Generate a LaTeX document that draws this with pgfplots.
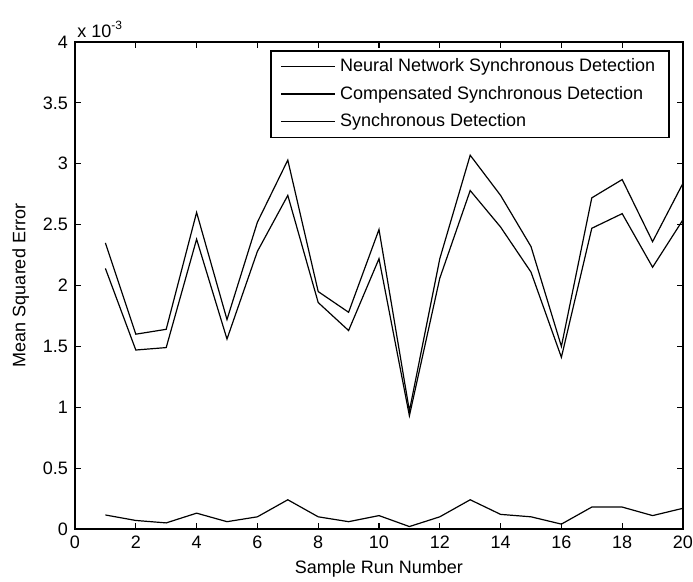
\documentclass[border=0pt]{standalone}
\usepackage{pgfplots}
\pgfplotsset{compat=1.18}
\usepackage{fontspec}
\setmainfont{Liberation Sans}
\begin{document}
\begin{tikzpicture}
\begin{axis}[
    name=ax,
    scale only axis,
    width=304pt, height=243.5pt,
    xmin=0, xmax=20,
    ymin=0, ymax=0.004,
    xtick={0,2,...,20},
    ytick={0,0.0005,...,0.0041},
    tick align=inside,
    major tick length=3pt,
    xtick pos=both, ytick pos=both,
    axis line style={line width=0.8pt},
    tick style={line width=0.6pt, black},
    scaled y ticks=base 10:3,
    ytick scale label code/.code={x 10\textsuperscript{#1}},
    every y tick scale label/.style={at={(rel axis cs:0,1)}, anchor=south west, inner sep=1pt, yshift=1pt},
    /pgf/number format/assume math mode=true,
    ticklabel style={font=\fontsize{9}{10}\selectfont},
    xlabel={Sample Run Number},
    ylabel={Mean Squared Error},
    label style={font=\fontsize{9}{10}\selectfont},
    xlabel style={yshift=1pt},
    ylabel style={yshift=0pt},
    legend style={at={(0.9786,0.9836)}, anchor=north east, font=\fontsize{9}{11}\selectfont,
        draw=black, line width=0.8pt, inner xsep=5pt, inner ysep=2pt, row sep=1.6pt},
    legend cell align=left,
    legend image code/.code={\draw[line width=0.6pt,black] (0cm,0cm) -- (0.95cm,0cm);},
]

\addplot[black, line width=0.6pt] coordinates {
(1,0.000115)(2,0.00007)(3,0.00005)(4,0.00013)(5,0.00006)(6,0.0001)(7,0.00024)(8,0.0001)(9,0.00006)(10,0.00011)
(11,0.00002)(12,0.0001)(13,0.00024)(14,0.00012)(15,0.0001)(16,0.00004)(17,0.00018)(18,0.00018)(19,0.00011)(20,0.00017)
};

\addplot[black, line width=0.6pt] coordinates {
(1,0.00214)(2,0.00147)(3,0.00149)(4,0.00238)(5,0.00156)(6,0.00228)(7,0.00274)(8,0.00186)(9,0.00163)(10,0.00222)
(11,0.00093)(12,0.00206)(13,0.00278)(14,0.00248)(15,0.00211)(16,0.00141)(17,0.00247)(18,0.00259)(19,0.00215)(20,0.00254)
};

\addplot[black, line width=0.6pt] coordinates {
(1,0.00235)(2,0.0016)(3,0.00164)(4,0.0026)(5,0.00172)(6,0.00252)(7,0.00303)(8,0.00195)(9,0.00178)(10,0.00246)
(11,0.00097)(12,0.00222)(13,0.00307)(14,0.00274)(15,0.00232)(16,0.0015)(17,0.00272)(18,0.00287)(19,0.00236)(20,0.00284)
};

\legend{Neural Network Synchronous Detection, Compensated Synchronous Detection, Synchronous Detection}
\end{axis}
\pgfresetboundingbox
\path[use as bounding box] (ax.south west) ++(-37.5pt,-26.5pt) rectangle ++(346.5pt,291pt);
\end{tikzpicture}
\end{document}
